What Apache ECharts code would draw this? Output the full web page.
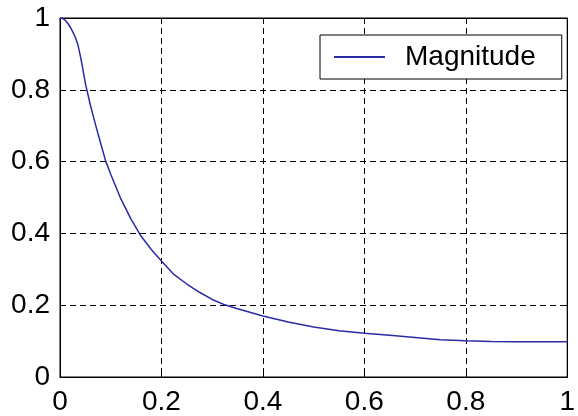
<!DOCTYPE html>
<html>
<head>
<meta charset="utf-8">
<script src="https://cdn.jsdelivr.net/npm/echarts@6/dist/echarts.min.js"></script>
<style>
html,body{margin:0;padding:0;background:#fff;}
#chart{width:578px;height:416px;}
</style>
</head>
<body>
<div id="chart"></div>
<script>
var seriesName = 'Magnitude';
var xValues = [0, 0.005, 0.01, 0.015, 0.02, 0.025, 0.03, 0.035, 0.04, 0.045, 0.05, 0.06, 0.07, 0.08, 0.09, 0.10, 0.12, 0.14, 0.16, 0.18, 0.20, 0.225, 0.25, 0.275, 0.30, 0.325, 0.35, 0.40, 0.45, 0.50, 0.55, 0.60, 0.65, 0.70, 0.75, 0.80, 0.85, 0.90, 0.95, 1.00];
var magnitude = [1.0, 0.999, 0.994, 0.986, 0.975, 0.962, 0.947, 0.927, 0.895, 0.858, 0.818, 0.757, 0.703, 0.652, 0.602, 0.565, 0.496, 0.440, 0.392, 0.355, 0.323, 0.285, 0.259, 0.236, 0.216, 0.201, 0.19, 0.17, 0.153, 0.139, 0.129, 0.122, 0.116, 0.110, 0.104, 0.101, 0.099, 0.098, 0.098, 0.098];
var xTickValues = [0, 0.2, 0.4, 0.6, 0.8, 1];
var xTickLabels = ['0', '0.2', '0.4', '0.6', '0.8', '1'];
var yTickValues = [0, 0.2, 0.4, 0.6, 0.8, 1];
var yTickLabels = ['0', '0.2', '0.4', '0.6', '0.8', '1'];

function labelFor(values, labels) {
  return function (v) {
    for (var i = 0; i < values.length; i++) {
      if (Math.abs(values[i] - v) < 1e-9) return labels[i];
    }
    return '';
  };
}

var data = xValues.map(function (x, i) { return [x, magnitude[i]]; });
var font = 'Liberation Sans, Arial, sans-serif';
var dash = [6, 4];
var lineColor = '#2a2aa8';

var chart = echarts.init(document.getElementById('chart'), null, {renderer: 'canvas'});
chart.setOption({
  animation: false,
  backgroundColor: '#fff',
  grid: {left: 60, right: 6, top: 18, bottom: 37, show: true, borderColor: '#000', borderWidth: 1, containLabel: false},
  legend: {
    show: true,
    data: [{name: seriesName, icon: 'rect'}],
    left: 320, top: 35,
    padding: [8, 26, 8, 14],
    itemWidth: 51, itemHeight: 2,
    borderColor: '#000', borderWidth: 1, borderRadius: 0,
    backgroundColor: '#fff',
    itemStyle: {color: lineColor},
    textStyle: {fontFamily: font, fontSize: 28, color: '#000', padding: [0, 0, 0, 15]}
  },
  xAxis: [{
    type: 'value', min: 0, max: 1, interval: 0.2,
    axisLine: {show: true, onZero: false, lineStyle: {color: '#000', width: 1}},
    axisTick: {show: true, inside: true, length: 4, lineStyle: {color: '#000'}},
    axisLabel: {fontFamily: font, fontSize: 28, color: '#000', margin: 11, formatter: labelFor(xTickValues, xTickLabels)},
    splitLine: {show: true, lineStyle: {color: '#000', type: dash, width: 1}}
  }, {
    type: 'value', min: 0, max: 1, interval: 0.2, position: 'top',
    axisLine: {show: true, onZero: false, lineStyle: {color: '#000', width: 1}},
    axisTick: {show: true, inside: true, length: 4, lineStyle: {color: '#000'}},
    axisLabel: {show: false},
    splitLine: {show: false}
  }],
  yAxis: [{
    type: 'value', min: 0, max: 1, interval: 0.2,
    axisLine: {show: true, onZero: false, lineStyle: {color: '#000', width: 1}},
    axisTick: {show: true, inside: true, length: 4, lineStyle: {color: '#000'}},
    axisLabel: {fontFamily: font, fontSize: 28, color: '#000', margin: 10, formatter: labelFor(yTickValues, yTickLabels)},
    splitLine: {show: true, lineStyle: {color: '#000', type: dash, width: 1}}
  }, {
    type: 'value', min: 0, max: 1, interval: 0.2, position: 'right',
    axisLine: {show: true, onZero: false, lineStyle: {color: '#000', width: 1}},
    axisTick: {show: true, inside: true, length: 4, lineStyle: {color: '#000'}},
    axisLabel: {show: false},
    splitLine: {show: false}
  }],
  series: [{
    name: seriesName,
    type: 'line',
    xAxisIndex: 0, yAxisIndex: 0,
    data: data,
    symbol: 'none',
    showSymbol: false,
    smooth: false,
    lineStyle: {color: lineColor, width: 1.5},
    itemStyle: {color: lineColor}
  }]
});
</script>
</body>
</html>
